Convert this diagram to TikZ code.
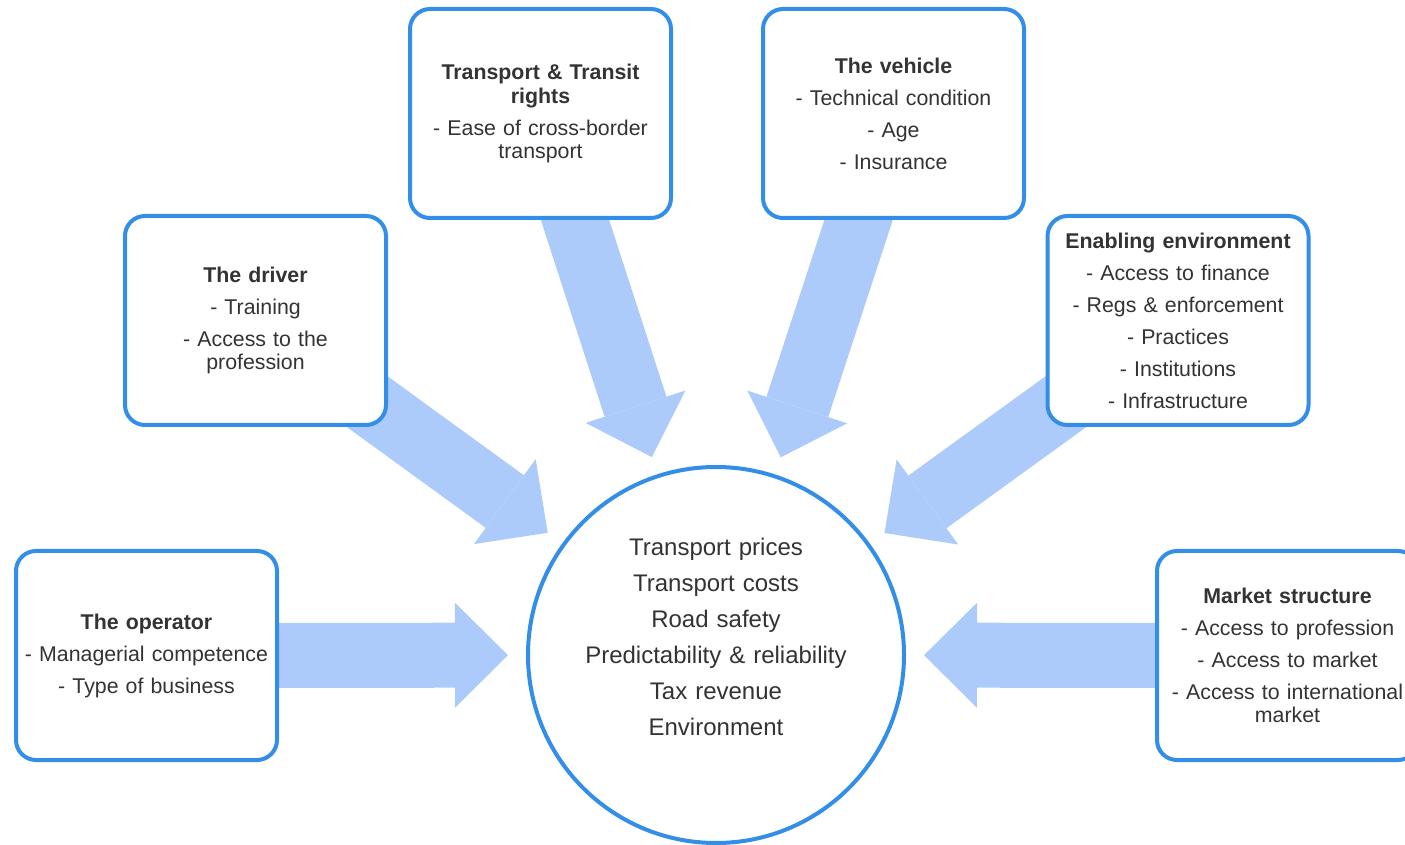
\documentclass[tikz,border=0pt]{standalone}
\usepackage{fontspec}
\setmainfont{Liberation Sans}
\usetikzlibrary{arrows.meta,backgrounds}

\definecolor{boxblue}{RGB}{51,142,232}
\definecolor{arrowblue}{RGB}{172,203,251}
\definecolor{txtgray}{RGB}{51,51,51}

\tikzset{
  factor/.style={draw=boxblue, line width=4pt, rounded corners=20pt, fill=white,
    minimum width=261pt, minimum height=209pt, text width=250pt, inner sep=0pt,
    align=center, text=txtgray, font=\fontsize{21.33}{23.5}\selectfont},
  hub/.style={circle, draw=boxblue, line width=4pt, fill=white, minimum size=376pt},
  fatarrow/.style={draw=arrowblue, line width=65pt, shorten >=18pt,
    -{Triangle[length=53pt,width=105pt,line width'=0pt]}}
}

\begin{document}
\begin{tikzpicture}[x=1pt,y=1pt]
\useasboundingbox (0,0) rectangle (1405,844);

\node[hub] (hub) at (716,189) {};
\node[text width=300pt, align=center, text=txtgray, font=\fontsize{24}{36}\selectfont] (outcomes) at (716,207)
  {Transport prices\\Transport costs\\Road safety\\Predictability \& reliability\\Tax revenue\\Environment};

\node[factor] (operator) at (146.5,188.5)
  {\textbf{The operator}\\[8.5pt]- Managerial competence\\[8.5pt]- Type of business};
\node[factor] (driver) at (255.5,523.5)
  {\textbf{The driver}\\[8.5pt]- Training\\[8.5pt]- Access to the\\profession};
\node[factor] (transport) at (540.5,730.5)
  {\textbf{Transport \& Transit\\rights}\\[8.5pt]- Ease of cross-border\\transport};
\node[factor] (vehicle) at (893.5,730.5)
  {\textbf{The vehicle}\\[8.5pt]- Technical condition\\[8.5pt]- Age\\[8.5pt]- Insurance};
\node[factor] (enabling) at (1178,523.5)
  {\textbf{Enabling environment}\\[8.5pt]- Access to finance\\[8.5pt]- Regs \& enforcement\\[8.5pt]- Practices\\[8.5pt]- Institutions\\[8.5pt]- Infrastructure};
\node[factor] (market) at (1287.5,188.5)
  {\textbf{Market structure}\\[8.5pt]- Access to profession\\[8.5pt]- Access to market\\[8.5pt]- Access to international\\market};

\begin{pgfonlayer}{background}
\foreach \f in {operator,driver,transport,vehicle,enabling,market}
  \draw[fatarrow] (\f.center) -- (hub);
\end{pgfonlayer}
\end{tikzpicture}
\end{document}
